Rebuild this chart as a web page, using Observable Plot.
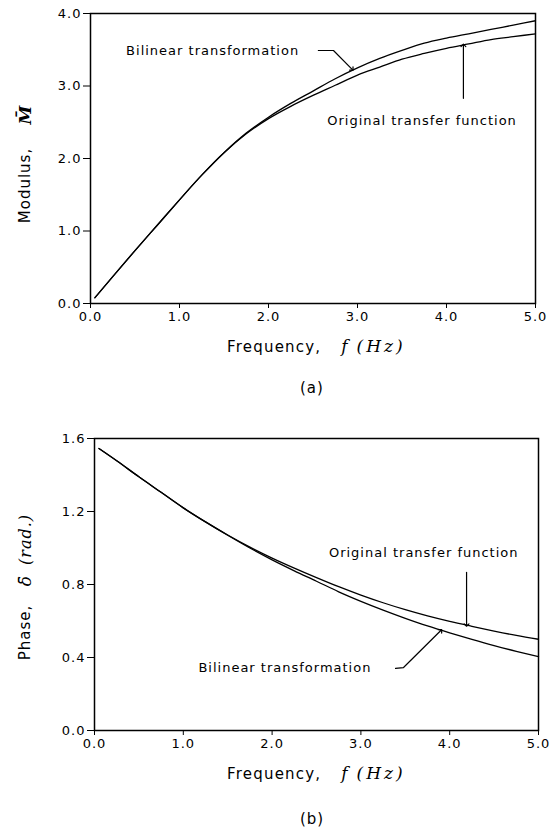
<!DOCTYPE html>
<html><head><meta charset="utf-8">
<script src="https://cdn.jsdelivr.net/npm/d3@7"></script>
<script src="https://cdn.jsdelivr.net/npm/@observablehq/plot@0.6"></script>
<style>
body{margin:0;background:#fff;}
#wrap{position:relative;width:550px;height:834px;font-family:"DejaVu Sans",sans-serif;color:#000;background:#fff;overflow:hidden;}
#wrap svg{position:absolute;left:0;}
.abs{position:absolute;white-space:nowrap;line-height:1;}
.lab{font-size:15px;letter-spacing:1.2px;}
.it{font-family:"DejaVu Serif",serif;font-style:italic;font-size:17px;letter-spacing:3px;}
.cap{font-size:15px;letter-spacing:1px;}
</style></head><body><div id="wrap"></div>
<script>
// ---- data ----
const freq = [0.05,0.25,0.5,0.75,1.0,1.25,1.5,1.75,2.0,2.25,2.5,2.75,3.0,3.25,3.5,3.75,4.0,4.25,4.5,4.75,5.0];
const modBilinear = [0.08,0.37,0.73,1.08,1.43,1.77,2.08,2.35,2.57,2.76,2.93,3.10,3.25,3.38,3.49,3.59,3.66,3.72,3.78,3.84,3.90];
const modOriginal = [0.08,0.37,0.73,1.08,1.43,1.77,2.08,2.34,2.55,2.72,2.87,3.01,3.15,3.26,3.37,3.45,3.52,3.58,3.64,3.68,3.72];
const phaseOriginal = [1.545,1.478,1.39,1.305,1.22,1.143,1.071,1.005,0.945,0.89,0.838,0.788,0.742,0.70,0.662,0.628,0.598,0.571,0.545,0.521,0.50];
const phaseBilinear = [1.545,1.478,1.39,1.305,1.22,1.143,1.07,1.0,0.935,0.875,0.818,0.76,0.708,0.66,0.615,0.573,0.535,0.499,0.465,0.434,0.405];
const freqTicks = [0,1,2,3,4,5];
const modTicks = [0,1,2,3,4];
const phaseTicks = [0,0.4,0.8,1.2,1.6];
const seriesNames = ["Bilinear transformation","Original transfer function"];
// annotation anchors (data units)
const topLabels = [{x:0.40,y:3.49,text:seriesNames[0]},{x:2.66,y:2.52,text:seriesNames[1]}];
const topLeader = [{x:2.56,y:3.49},{x:2.73,y:3.49},{x:2.94,y:3.23}];
const topArrow = [{x:4.19,y:2.83},{x:4.19,y:3.56}];
const botLabels = [{x:2.64,y:0.975,text:seriesNames[1]},{x:1.17,y:0.345,text:seriesNames[0]}];
const botLeader = [{x:3.39,y:0.34},{x:3.48,y:0.345},{x:3.90,y:0.548}];
const botArrow = [{x:4.19,y:0.866},{x:4.19,y:0.578}];

const rows = (ys) => freq.map((f,i)=>({f, v: ys[i]}));
const fmt = d3.format(".1f");

function chart({height, mb, ml, mr, yDomain, yTicks, a, b, labels, leader, arrow, ylabel}) {
  return Plot.plot({
    width: 550, height,
    marginTop: 13, marginBottom: mb, marginLeft: ml, marginRight: mr,
    style: {fontFamily: "DejaVu Sans, sans-serif", fontSize: "13px", background: "white", color: "black", letterSpacing: "1px"},
    x: {domain: [0,5]},
    y: {domain: yDomain},
    marks: [
      Plot.axisX({ticks: freqTicks, tickFormat: fmt, tickSize: 5, tickPadding: 3, label: null, fontSize: 13}),
      Plot.axisY({ticks: yTicks, tickFormat: fmt, tickSize: 7, tickPadding: 2, label: null, fontSize: 13}),
      Plot.frame({stroke: "black", strokeWidth: 1.5}),
      Plot.line(rows(a), {x: "f", y: "v", curve: "monotone-x", stroke: "black", strokeWidth: 1.3}),
      Plot.line(rows(b), {x: "f", y: "v", curve: "monotone-x", stroke: "black", strokeWidth: 1.3}),
      Plot.text(labels, {x: "x", y: "y", text: "text", textAnchor: "start", fontSize: 13}),
      Plot.line(leader, {x: "x", y: "y", stroke: "black", strokeWidth: 1.2, markerEnd: "arrow"}),
      Plot.line(arrow, {x: "x", y: "y", stroke: "black", strokeWidth: 1.2, markerEnd: "arrow"}),
      ...ylabel
    ]
  });
}

const topChart = chart({
  height: 330, mb: 27, ml: 90, mr: 15, yDomain: [0,4], yTicks: modTicks,
  a: modBilinear, b: modOriginal, labels: topLabels, leader: topLeader, arrow: topArrow,
  ylabel: [
    Plot.text(["Modulus,"], {frameAnchor: "left", textAnchor: "middle", rotate: -90, dx: -65, dy: 27, fontSize: 15}),
    Plot.text(["M\u0304"], {frameAnchor: "left", textAnchor: "middle", rotate: -90, dx: -65, dy: -44, fontSize: 17, fontFamily: "DejaVu Serif", fontStyle: "italic", fontWeight: "bold"})
  ]
});
const botChart = chart({
  height: 332, mb: 27, ml: 94, mr: 12, yDomain: [0,1.6], yTicks: phaseTicks,
  a: phaseOriginal, b: phaseBilinear, labels: botLabels, leader: botLeader, arrow: botArrow,
  ylabel: [
    Plot.text(["Phase,"], {frameAnchor: "left", textAnchor: "middle", rotate: -90, dx: -69, dy: 48, fontSize: 15}),
    Plot.text(["\u03B4\u0304"], {frameAnchor: "left", textAnchor: "middle", rotate: -90, dx: -69, dy: -4, fontSize: 17, fontFamily: "DejaVu Serif", fontStyle: "italic"}),
    Plot.text(["(rad.)"], {frameAnchor: "left", textAnchor: "middle", rotate: -90, dx: -69, dy: -45, fontSize: 16, fontFamily: "DejaVu Serif", fontStyle: "italic"})
  ]
});

const wrap = document.getElementById("wrap");
topChart.style.top = "0px";
botChart.style.top = "425px";
wrap.appendChild(topChart);
wrap.appendChild(botChart);

function xlabel(top) {
  const d = document.createElement("div");
  d.className = "abs lab";
  d.style.left = "227px"; d.style.top = top + "px";
  d.innerHTML = 'Frequency,<span class="it" style="margin-left:20px">f</span><span class="it" style="margin-left:6px">(Hz)</span>';
  wrap.appendChild(d);
}
function caption(text, top) {
  const d = document.createElement("div");
  d.className = "abs cap";
  d.style.left = "300px"; d.style.top = top + "px";
  d.textContent = text;
  wrap.appendChild(d);
}
xlabel(338);
caption("(a)", 381);
xlabel(765);
caption("(b)", 812);
</script></body></html>
